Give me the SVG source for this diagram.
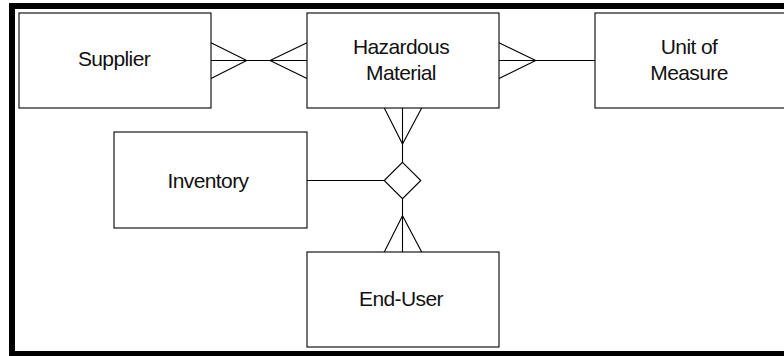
<svg xmlns="http://www.w3.org/2000/svg" width="784" height="356" viewBox="0 0 784 356">
  <style>
    .box { fill: #fff; stroke: #000; stroke-width: 1.1; }
    .lbl { font-family: "Liberation Sans", Arial, sans-serif; font-size: 21px; letter-spacing: -0.6px; fill: #111; text-anchor: middle; }
    .ln { fill: none; stroke: #000; stroke-width: 1.1; }
  </style>
  <rect width="784" height="356" fill="#fff"/>

  <!-- heavy frame: top, left and bottom bars -->
  <g id="frame" fill="#000">
    <rect x="9" y="3" width="775" height="6"/>
    <rect x="9" y="3" width="6" height="353"/>
    <rect x="9" y="351" width="775" height="5"/>
  </g>

  <!-- relationship lines with crow's feet -->
  <g id="connectors" class="ln">
    <!-- Supplier to Hazardous Material (many-to-many) -->
    <path class="ln" d="M211 60.5 H307"/>
    <path class="ln" d="M211 42.7 L246.7 60.5 L211 78.5"/>
    <path class="ln" d="M307 42.7 L270 60.5 L307 78.5"/>
    <!-- Hazardous Material to Unit of Measure -->
    <path class="ln" d="M499 60.5 H595"/>
    <path class="ln" d="M499 42.7 L535.7 60.5 L499 78.5"/>
    <!-- Hazardous Material down to the diamond -->
    <path class="ln" d="M402.5 108 V162.3"/>
    <path class="ln" d="M384.3 108 L402.5 144 L421.7 108"/>
    <!-- Inventory to the diamond -->
    <path class="ln" d="M307 180.5 H384.5"/>
    <!-- diamond down to End-User -->
    <path class="ln" d="M402.5 198.7 V252"/>
    <path class="ln" d="M384.3 252 L402.5 215.7 L421.7 252"/>
  </g>

  <g id="relationship">
    <path class="ln" d="M402.5 162.3 L420.8 180.5 L402.5 198.7 L384.2 180.5 Z" fill="#fff"/>
  </g>

  <g id="supplier">
    <rect class="box" x="19" y="13" width="192" height="95"/>
    <text class="lbl" x="114" y="66">Supplier</text>
  </g>

  <g id="hazardous-material">
    <rect class="box" x="307" y="13" width="192" height="95"/>
    <text class="lbl" x="401" y="54">Hazardous</text>
    <text class="lbl" x="401" y="80">Material</text>
  </g>

  <g id="unit-of-measure">
    <rect class="box" x="595" y="13" width="195" height="95"/>
    <text class="lbl" x="689" y="54">Unit of</text>
    <text class="lbl" x="689" y="80">Measure</text>
  </g>

  <g id="inventory">
    <rect class="box" x="114" y="132" width="193" height="96"/>
    <text class="lbl" x="208" y="187.5">Inventory</text>
  </g>

  <g id="end-user">
    <rect class="box" x="307" y="252" width="192" height="95"/>
    <text class="lbl" x="401" y="306">End-User</text>
  </g>
</svg>
